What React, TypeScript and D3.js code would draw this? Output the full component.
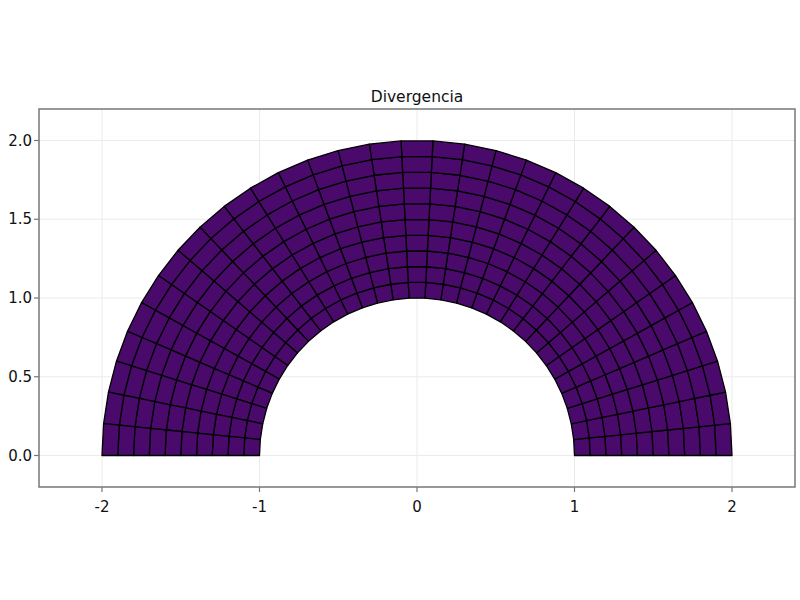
import React from "react";
import * as d3 from "d3";

const radii = [1.0, 1.1, 1.2, 1.3, 1.4, 1.5, 1.6, 1.7, 1.8, 1.9, 2.0];
const angularCells = 31;
const xTicks = [-2, -1, 0, 1, 2];
const yTicks = [0.0, 0.5, 1.0, 1.5, 2.0];
const xTickLabels = ["-2", "-1", "0", "1", "2"];
const yTickLabels = ["0.0", "0.5", "1.0", "1.5", "2.0"];
const cellFill = "#4a0a6c";
const title = "Divergencia";

const W = 800, H = 600;
const left = 39, right = 795, top = 109, bottom = 487;

export default function App() {
  const x = d3.scaleLinear().domain([-2.4, 2.4]).range([left, right]);
  const y = d3.scaleLinear().domain([-0.2, 2.2]).range([bottom, top]);

  const cells: { d: string }[] = [];
  for (let i = 0; i < radii.length - 1; i++) {
    for (let j = 0; j < angularCells; j++) {
      const t0 = (j * Math.PI) / angularCells;
      const t1 = ((j + 1) * Math.PI) / angularCells;
      const r0 = radii[i], r1 = radii[i + 1];
      const pts: [number, number][] = [
        [x(r0 * Math.cos(t0)), y(r0 * Math.sin(t0))],
        [x(r1 * Math.cos(t0)), y(r1 * Math.sin(t0))],
        [x(r1 * Math.cos(t1)), y(r1 * Math.sin(t1))],
        [x(r0 * Math.cos(t1)), y(r0 * Math.sin(t1))],
      ];
      cells.push({ d: "M" + pts.map((p) => p.join(",")).join("L") + "Z" });
    }
  }

  const font = "DejaVu Sans, sans-serif";
  return (
    <svg width={W} height={H} style={{ position: "absolute", left: 0, top: 0, background: "#fff" }}>
      {xTicks.map((t) => (
        <line key={"gx" + t} x1={x(t)} x2={x(t)} y1={top} y2={bottom} stroke="#ebebeb" strokeWidth={1} />
      ))}
      {yTicks.map((t) => (
        <line key={"gy" + t} x1={left} x2={right} y1={y(t)} y2={y(t)} stroke="#ebebeb" strokeWidth={1} />
      ))}
      <g>
        {cells.map((c, k) => (
          <path key={k} d={c.d} fill={cellFill} stroke="#000" strokeWidth={1.3} strokeLinejoin="round" />
        ))}
      </g>
      <rect x={left} y={top} width={right - left} height={bottom - top} fill="none" stroke="#777" strokeWidth={1.5} />
      {xTicks.map((t, i) => (
        <g key={"tx" + t}>
          <line x1={x(t)} x2={x(t)} y1={bottom} y2={bottom + 5} stroke="#777" strokeWidth={1.2} />
          <text x={x(t)} y={bottom + 25} textAnchor="middle" fontFamily={font} fontSize={15} fill="#111">
            {xTickLabels[i]}
          </text>
        </g>
      ))}
      {yTicks.map((t, i) => (
        <g key={"ty" + t}>
          <line x1={left - 5} x2={left} y1={y(t)} y2={y(t)} stroke="#777" strokeWidth={1.2} />
          <text x={left - 7} y={y(t) + 5} textAnchor="end" fontFamily={font} fontSize={15} fill="#111">
            {yTickLabels[i]}
          </text>
        </g>
      ))}
      <text x={(left + right) / 2} y={102} textAnchor="middle" fontFamily={font} fontSize={15.5} fill="#111">
        {title}
      </text>
    </svg>
  );
}
